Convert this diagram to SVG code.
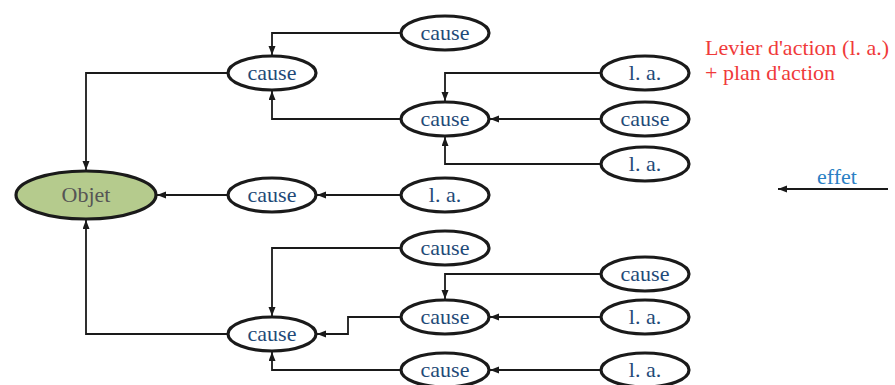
<svg xmlns="http://www.w3.org/2000/svg" width="895" height="385" viewBox="0 0 895 385">
<defs>
<marker id="ah" markerUnits="userSpaceOnUse" markerWidth="10" markerHeight="8" refX="9" refY="3.5" orient="auto">
<path d="M0,0 L9,3.5 L0,7 z" fill="#1a1a1a"/>
</marker>
<style>
.n ellipse{fill:#fff;stroke:#1a1a1a;stroke-width:3.2}
.n text{font-family:"Liberation Serif","Times New Roman",serif;font-size:22px;fill:#1f4a78;text-anchor:middle}
#objet ellipse{fill:#b5cb8d}
#objet text{fill:#555}
.c path{fill:none;stroke:#1a1a1a;stroke-width:1.8;marker-end:url(#ah)}
.leg{font-family:"Liberation Serif","Times New Roman",serif;font-size:22px}
</style>
</defs>
<g class="c" id="connectors">
<path d="M400,33 H272 V55"/>
<path d="M227,73 H86 V170"/>
<path d="M400,119 H272 V91"/>
<path d="M600,73 H445 V101"/>
<path d="M600,119 H490"/>
<path d="M600,164 H445 V137"/>
<path d="M400,195 H317"/>
<path d="M227,195 H157"/>
<path d="M227,334 H86 V220"/>
<path d="M400,248 H272 V316"/>
<path d="M600,274 H445 V299"/>
<path d="M400,317 H348 V334 H317"/>
<path d="M600,317 H490"/>
<path d="M400,370 H272 V352"/>
<path d="M600,370 H490"/>
<path d="M888,189 H778"/>
</g>
<g class="n" id="objet"><ellipse cx="86" cy="195" rx="70" ry="24"/><text x="86" y="202">Objet</text></g>
<g class="n" id="c1"><ellipse cx="445" cy="33" rx="44" ry="17"/><text x="445" y="40">cause</text></g>
<g class="n" id="c2"><ellipse cx="272" cy="73" rx="44" ry="17"/><text x="272" y="80">cause</text></g>
<g class="n" id="la1"><ellipse cx="645" cy="73" rx="44" ry="17"/><text x="645" y="80">l. a.</text></g>
<g class="n" id="c3"><ellipse cx="445" cy="119" rx="44" ry="17"/><text x="445" y="126">cause</text></g>
<g class="n" id="c4"><ellipse cx="645" cy="119" rx="44" ry="17"/><text x="645" y="126">cause</text></g>
<g class="n" id="la2"><ellipse cx="645" cy="164" rx="44" ry="17"/><text x="645" y="171">l. a.</text></g>
<g class="n" id="c5"><ellipse cx="272" cy="195" rx="44" ry="17"/><text x="272" y="202">cause</text></g>
<g class="n" id="la3"><ellipse cx="445" cy="195" rx="44" ry="17"/><text x="445" y="202">l. a.</text></g>
<g class="n" id="c6"><ellipse cx="445" cy="248" rx="44" ry="17"/><text x="445" y="255">cause</text></g>
<g class="n" id="c7"><ellipse cx="645" cy="274" rx="44" ry="17"/><text x="645" y="281">cause</text></g>
<g class="n" id="c8"><ellipse cx="272" cy="334" rx="44" ry="17"/><text x="272" y="341">cause</text></g>
<g class="n" id="c9"><ellipse cx="445" cy="317" rx="44" ry="17"/><text x="445" y="324">cause</text></g>
<g class="n" id="la4"><ellipse cx="645" cy="317" rx="44" ry="17"/><text x="645" y="324">l. a.</text></g>
<g class="n" id="c10"><ellipse cx="445" cy="370" rx="44" ry="17"/><text x="445" y="377">cause</text></g>
<g class="n" id="la5"><ellipse cx="645" cy="370" rx="44" ry="17"/><text x="645" y="377">l. a.</text></g>
<g id="legend">
<text class="leg" x="705" y="55" fill="#f03a3a">Levier d'action (l. a.)</text>
<text class="leg" x="705" y="80" fill="#f03a3a">+ plan d'action</text>
<text class="leg" x="837" y="184" fill="#2a7fc4" text-anchor="middle">effet</text>
</g>
</svg>
